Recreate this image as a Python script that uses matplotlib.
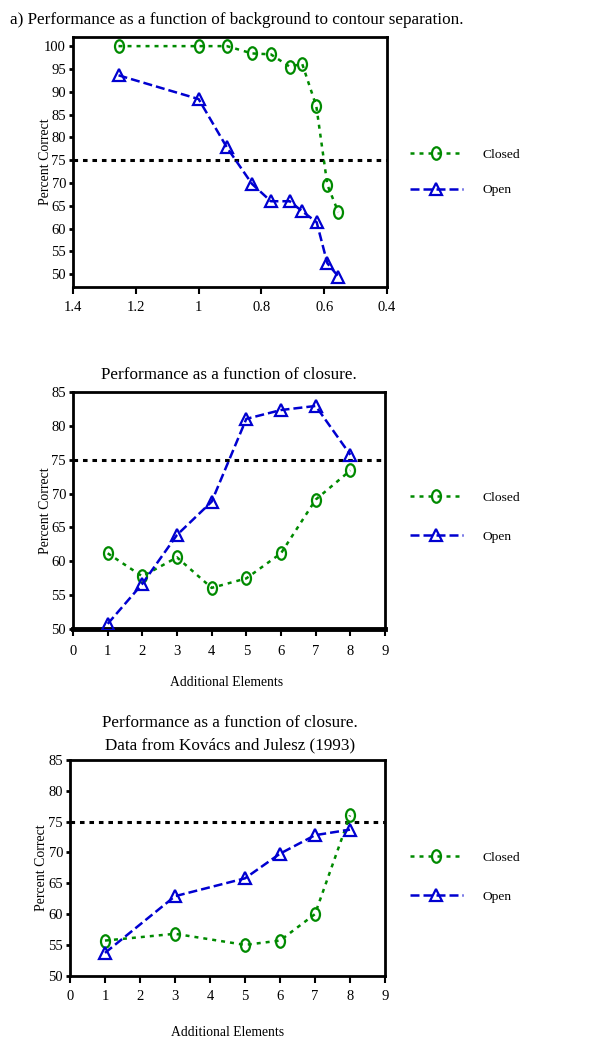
import matplotlib
matplotlib.use("Agg")
import matplotlib.pyplot as plt
from matplotlib.path import Path
from matplotlib.transforms import Affine2D

# ---------------- data ----------------
sep_closed_x = [1.255, 1.0, 0.91, 0.83, 0.77, 0.71, 0.67, 0.625, 0.59, 0.555]
sep_closed_y = [100, 100, 100, 98.4, 98.2, 95.5, 96.1, 86.8, 69.6, 63.6]
sep_open_x = [1.255, 1.0, 0.91, 0.83, 0.77, 0.71, 0.67, 0.624, 0.59, 0.555]
sep_open_y = [93.6, 88.4, 77.8, 69.8, 66.0, 66.0, 63.8, 61.4, 52.4, 49.5]
sep_xticks = [1.4, 1.2, 1.0, 0.8, 0.6, 0.4]
sep_xticklabels = ["1.4", "1.2", "1", "0.8", "0.6", "0.4"]
sep_yticks = [50, 55, 60, 65, 70, 75, 80, 85, 90, 95, 100]

clo_x = [1, 2, 3, 4, 5, 6, 7, 8]
clo_closed_y = [61.2, 57.8, 60.6, 56.1, 57.5, 61.2, 69.1, 73.4]
clo_open_y = [50.8, 56.7, 63.9, 68.8, 81.0, 82.3, 82.9, 75.7]

kj_x = [1, 3, 5, 6, 7, 8]
kj_closed_y = [55.7, 56.8, 55.0, 55.7, 60.0, 76.0]
kj_open_y = [53.7, 62.9, 65.8, 69.8, 72.8, 73.7]

int_xticks = [0, 1, 2, 3, 4, 5, 6, 7, 8, 9]
clo_yticks = [50, 55, 60, 65, 70, 75, 80, 85]
series_labels = ["Closed", "Open"]
chance_level = 75

# ---------------- style ----------------
plt.rcParams['font.family'] = ['Liberation Serif', 'DejaVu Serif']
GREEN = '#008A00'
BLUE = '#0000D0'
ell = Path.unit_circle().transformed(Affine2D().scale(0.72, 1.0))

fig = plt.figure(figsize=(5.99, 10.38), dpi=100)
W, H = 599.0, 1038.0


def ax_at(l, t, r, b):
    return fig.add_axes([l / W, 1 - b / H, (r - l) / W, (b - t) / H])


def style(ax, yticks, bottom_lw=2.0, xpad=5):
    for s in ax.spines.values():
        s.set_linewidth(2.0)
    ax.spines['bottom'].set_linewidth(bottom_lw)
    ax.set_yticks(yticks)
    ax.tick_params(axis='y', direction='out', length=3, width=2, pad=2.0,
                   labelsize=10.5, right=False)
    ax.tick_params(axis='x', direction='out', length=5, width=1.5, pad=xpad,
                   labelsize=10.5, top=False)


def draw(ax, xc, yc, xo, yo):
    ax.axhline(chance_level, color='black', lw=2.2, dashes=(1.5, 1.6), zorder=1)
    lc, = ax.plot(xc, yc, color=GREEN, lw=1.8, dashes=(1.6, 2.0), marker=ell,
                  markersize=9, mfc='none', mec=GREEN, mew=1.6,
                  label=series_labels[0], zorder=3)
    lo, = ax.plot(xo, yo, color=BLUE, lw=1.8, dashes=(3.6, 1.6), marker='^',
                  markersize=8, mfc='none', mec=BLUE, mew=1.6,
                  label=series_labels[1], zorder=3)
    return [lc, lo]


def legend(handles, ycenter, spacing):
    fig.legend(handles=handles, loc='center left',
               bbox_to_anchor=(410 / W, 1 - ycenter / H), frameon=False,
               handlelength=3.9, handletextpad=1.5, labelspacing=spacing,
               fontsize=9.7, borderpad=0, borderaxespad=0, numpoints=1)


def ylabel(ax, x):
    ax.set_ylabel("Percent Correct", fontsize=10)
    ax.yaxis.set_label_coords(x, 0.5)


# ---------------- panel a ----------------
ax1 = ax_at(73, 37, 387, 287)
h = draw(ax1, sep_closed_x, sep_closed_y, sep_open_x, sep_open_y)
ax1.set_xlim(1.4, 0.4)
ax1.set_ylim(47.2, 102.0)
ax1.set_xticks(sep_xticks)
ax1.set_xticklabels(sep_xticklabels)
style(ax1, sep_yticks, xpad=5)
ylabel(ax1, -0.066)
fig.text(10 / W, 1 - 20 / H,
         "a) Performance as a function of background to contour separation.",
         fontsize=12.3, ha='left', va='center')
legend(h, 172.5, 1.7)

# ---------------- panel b ----------------
ax2 = ax_at(73, 391.7, 385, 629.3)
h = draw(ax2, clo_x, clo_closed_y, clo_x, clo_open_y)
ax2.set_xlim(0, 9)
ax2.set_ylim(50, 85)
ax2.set_xticks(int_xticks)
style(ax2, clo_yticks, bottom_lw=3.5, xpad=6.5)
ylabel(ax2, -0.066)
fig.text(229 / W, 1 - 375 / H, "Performance as a function of closure.",
         fontsize=12.3, ha='center', va='center')
fig.text(227 / W, 1 - 683 / H, "Additional Elements", fontsize=9.8,
         ha='center', va='center')
legend(h, 517, 1.95)

# ---------------- panel c ----------------
ax3 = ax_at(70, 760, 385, 975.7)
h = draw(ax3, kj_x, kj_closed_y, kj_x, kj_open_y)
ax3.set_xlim(0, 9)
ax3.set_ylim(50, 85)
ax3.set_xticks(int_xticks)
style(ax3, clo_yticks, xpad=5)
ylabel(ax3, -0.07)
fig.text(230 / W, 1 - 723 / H, "Performance as a function of closure.",
         fontsize=12.3, ha='center', va='center')
fig.text(230 / W, 1 - 745 / H, "Data from Kovács and Julesz (1993)",
         fontsize=12.3, ha='center', va='center')
fig.text(227.5 / W, 1 - 1032 / H, "Additional Elements", fontsize=9.8,
         ha='center', va='center')
legend(h, 877, 1.95)

fig.savefig("out.png", dpi=100)
